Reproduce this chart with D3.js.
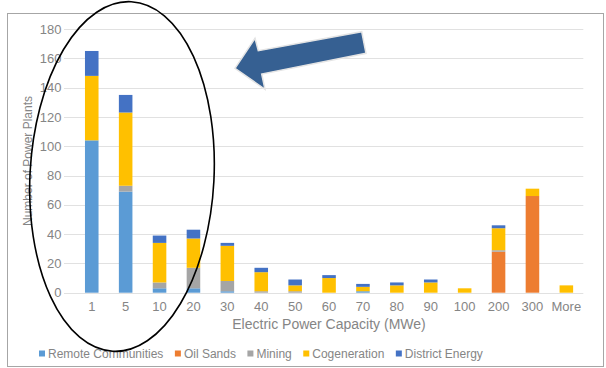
<!DOCTYPE html>
<html>
<head>
<meta charset="utf-8">
<script src="https://cdn.jsdelivr.net/npm/d3@7/dist/d3.min.js"></script>
<style>
  html, body { margin: 0; padding: 0; background: #fff; }
  svg { display: block; font-family: "Liberation Sans", Arial, sans-serif; }
</style>
</head>
<body>
<svg id="chart" width="606" height="368"></svg>
<script>
// Power plant counts by electric capacity bin (MWe), per sector
const categories = ["1", "5", "10", "20", "30", "40", "50", "60", "70", "80", "90", "100", "200", "300", "More"];
const remoteCommunities = [104, 69, 3, 3, 1, 0, 0, 0, 1, 0, 0, 0, 0, 0, 0];
const oilSands          = [0, 0, 0, 0, 0, 0, 0, 0, 0, 0, 0, 0, 28, 66, 0];
const mining            = [0, 4, 4, 14, 7, 1, 1, 0, 0, 0, 0, 0, 1, 0, 0];
const cogeneration      = [44, 50, 27, 20, 24, 13, 4, 10, 3, 5, 7, 3, 15, 5, 5];
const districtEnergy    = [17, 12, 5, 6, 2, 3, 4, 2, 2, 2, 2, 0, 2, 0, 0];

const seriesNames  = ["Remote Communities", "Oil Sands", "Mining", "Cogeneration", "District Energy"];
const seriesColors = ["#5b9bd5", "#ed7d31", "#a5a5a5", "#ffc000", "#4472c4"];
const yTicks = [0, 20, 40, 60, 80, 100, 120, 140, 160, 180];

const table = categories.map((c, i) => ({
  cat: c,
  "Remote Communities": remoteCommunities[i],
  "Oil Sands": oilSands[i],
  "Mining": mining[i],
  "Cogeneration": cogeneration[i],
  "District Energy": districtEnergy[i]
}));

const svg = d3.select("#chart");
const textColor = "#858585";

// chart frame
svg.append("rect")
  .attr("x", 7.5).attr("y", 13.5)
  .attr("width", 596).attr("height", 353)
  .attr("fill", "#fff").attr("stroke", "#a6a6a6").attr("stroke-width", 1);

const x = d3.scaleBand().domain(categories).range([74.8, 583.3]).paddingInner(0.6).paddingOuter(0.3);
const y = d3.scaleLinear().domain([0, 180]).range([292.7, 29]);

// horizontal gridlines
svg.append("g").selectAll("line").data(yTicks).join("line")
  .attr("x1", 64).attr("x2", 583.3)
  .attr("y1", d => Math.round(y(d)) + 0.5).attr("y2", d => Math.round(y(d)) + 0.5)
  .attr("stroke", "#e1e1e1").attr("stroke-width", 1);

// stacked bars
const stack = d3.stack().keys(seriesNames)(table);
const color = d3.scaleOrdinal().domain(seriesNames).range(seriesColors);

svg.append("g").selectAll("g").data(stack).join("g")
  .attr("fill", d => color(d.key))
  .selectAll("rect").data(d => d).join("rect")
  .attr("x", d => x(d.data.cat))
  .attr("width", x.bandwidth())
  .attr("y", d => y(d[1]))
  .attr("height", d => y(d[0]) - y(d[1]));

// y axis labels
const yAxis = svg.append("g")
  .attr("transform", "translate(64,0)")
  .call(d3.axisLeft(y).tickValues(yTicks).tickSize(0).tickPadding(2.5));
yAxis.select(".domain").remove();
yAxis.selectAll("text")
  .attr("font-size", 13).attr("fill", textColor)
  .attr("font-family", "'Liberation Sans', Arial, sans-serif");

// x axis labels
const xAxis = svg.append("g")
  .attr("transform", "translate(0," + y(0) + ")")
  .call(d3.axisBottom(x).tickSize(0).tickPadding(9));
xAxis.select(".domain").remove();
xAxis.selectAll("text")
  .attr("font-size", 13).attr("fill", textColor)
  .attr("font-family", "'Liberation Sans', Arial, sans-serif");

// axis titles
svg.append("text")
  .attr("x", 329).attr("y", 329)
  .attr("text-anchor", "middle")
  .attr("font-size", 14).attr("fill", textColor)
  .text("Electric Power Capacity (MWe)");

svg.append("text")
  .attr("transform", "translate(31.5,161) rotate(-90)")
  .attr("text-anchor", "middle")
  .attr("font-size", 12).attr("fill", textColor)
  .text("Number of Power Plants");

// legend
const legend = svg.append("g");
let lx = 39;
seriesNames.forEach((name, i) => {
  legend.append("rect")
    .attr("x", lx).attr("y", 350.5)
    .attr("width", 6).attr("height", 6)
    .attr("fill", seriesColors[i]);
  const t = legend.append("text")
    .attr("x", lx + 9).attr("y", 357.8)
    .attr("font-size", 12).attr("fill", textColor)
    .text(name);
  lx += 9 + t.node().getComputedTextLength() + 11.5;
});

// arrow pointing at the small-capacity bins
svg.append("polygon")
  .attr("points", "235,68.3 255,38.3 258.3,50.7 361.7,31.7 366,53.3 261.7,74 265,89.3")
  .attr("fill", "#366092")
  .attr("stroke", "#e4e4e4").attr("stroke-width", 1.5).attr("stroke-linejoin", "miter");

// ellipse around the 1-20 MWe bins
svg.append("ellipse")
  .attr("cx", 122).attr("cy", 176.5)
  .attr("rx", 92).attr("ry", 175)
  .attr("transform", "rotate(3,122,176.5)")
  .attr("fill", "none").attr("stroke", "#000").attr("stroke-width", 1.6);
</script>
</body>
</html>
